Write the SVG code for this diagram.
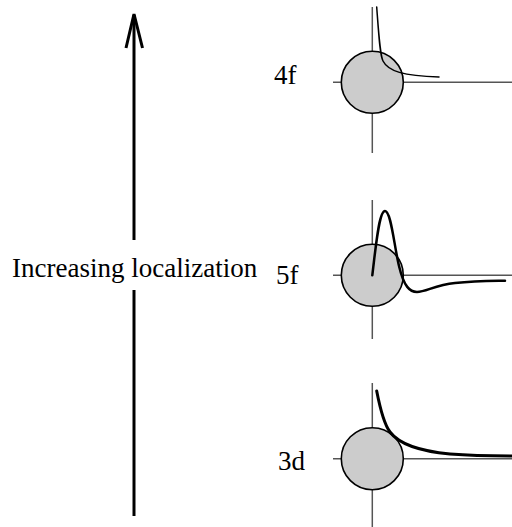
<svg xmlns="http://www.w3.org/2000/svg" width="512" height="527" viewBox="0 0 512 527">
<style>
text{font-family:"Liberation Serif","Times New Roman",serif;font-size:27px;fill:#000}
.axis{stroke:#555;stroke-width:1.5;fill:none}
.core{fill:#cccccc;stroke:#000;stroke-width:1.6}
.wave{fill:none;stroke:#000;stroke-linecap:round}
.arrow{fill:none;stroke:#000;stroke-width:3}
</style>
<rect width="512" height="527" fill="#fff"/>
<g id="arrow">
<line class="arrow" x1="134" y1="15" x2="134" y2="240"/>
<line class="arrow" x1="134" y1="290" x2="134" y2="516"/>
<polyline class="arrow" points="126,48 134,14 142.5,48"/>
<text x="12" y="277">Increasing localization</text>
</g>
<g id="panel-4f">
<line class="axis" x1="372.3" y1="7" x2="372.3" y2="153"/>
<line class="axis" x1="333" y1="82.3" x2="512" y2="82.3"/>
<circle class="core" cx="372.3" cy="82.3" r="31"/>
<path class="wave" stroke-width="1.5" d="M376.7,7 C379,38 380,55 383,61 C388,71 403,76 439,77"/>
<text x="274" y="84">4f</text>
</g>
<g id="panel-5f">
<line class="axis" x1="372.3" y1="200" x2="372.3" y2="339"/>
<line class="axis" stroke="#000" x1="333" y1="275.3" x2="512" y2="275.3"/>
<circle class="core" cx="372.3" cy="275.3" r="31"/>
<path class="wave" stroke-width="2.5" d="M372.3,275.3 C376,245 379,211 385,211 C391,211 394,245 399,266 C404,287 410,292 417,292 C426,292 435,285 455,283 C475,281 490,281 505,280.7"/>
<text x="276" y="284">5f</text>
</g>
<g id="panel-3d">
<line class="axis" x1="372.3" y1="383" x2="372.3" y2="527"/>
<line class="axis" x1="333" y1="458.7" x2="512" y2="458.7"/>
<circle class="core" cx="372.3" cy="458.7" r="31"/>
<path class="wave" stroke-width="3" d="M376.7,391 C380,408 384,424 390,432 C399,444 418,451 450,454 C475,456 495,456 512,456"/>
<text x="278" y="470">3d</text>
</g>
</svg>
